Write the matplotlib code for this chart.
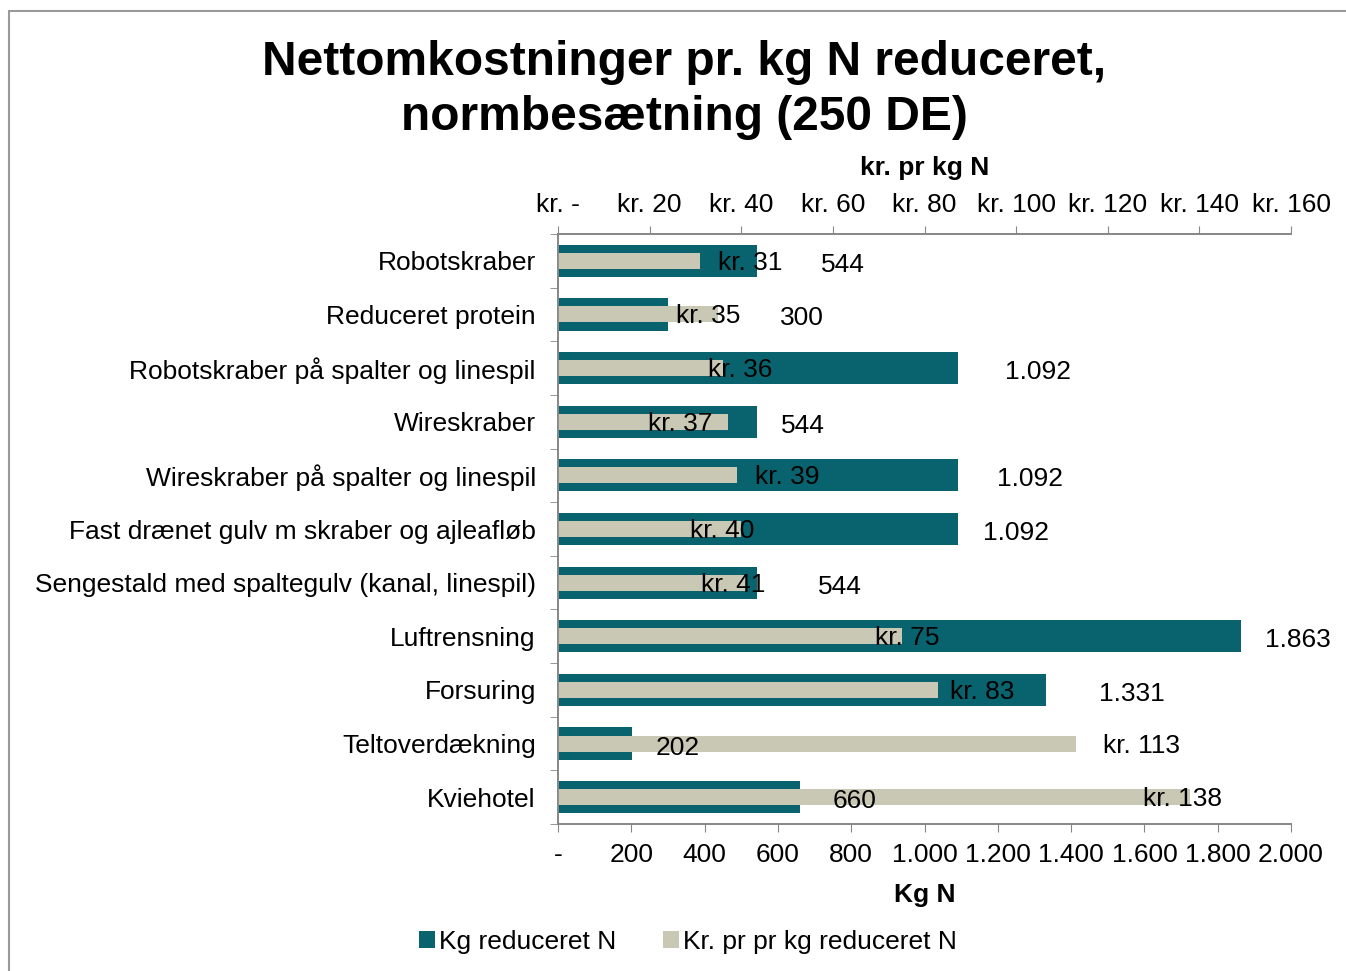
import matplotlib
matplotlib.use("Agg")
import matplotlib.pyplot as plt
from matplotlib.patches import Patch, Rectangle
from matplotlib.ticker import FixedLocator

plt.rcParams['font.family'] = ['Liberation Sans', 'DejaVu Sans']

categories = [
    "Robotskraber",
    "Reduceret protein",
    "Robotskraber på spalter og linespil",
    "Wireskraber",
    "Wireskraber på spalter og linespil",
    "Fast drænet gulv m skraber og ajleafløb",
    "Sengestald med spaltegulv (kanal, linespil)",
    "Luftrensning",
    "Forsuring",
    "Teltoverdækning",
    "Kviehotel",
]
kg_reduced = [544, 300, 1092, 544, 1092, 1092, 544, 1863, 1331, 202, 660]
kr_per_kg = [31, 35, 36, 37, 39, 40, 41, 75, 83, 113, 138]
kg_ticks = [0, 200, 400, 600, 800, 1000, 1200, 1400, 1600, 1800, 2000]
kr_ticks = [0, 20, 40, 60, 80, 100, 120, 140, 160]

# label placement offsets (pixels from bar end), as in the original
kg_label_dx = [86, 134, 80, 46, 72, 58, 83, 57, 86, 46, 55]
kr_label_dx = [50, -10, 17, -47, 51, -19, -13, 6, 44, 66, -8]

teal = "#08636E"
beige = "#C9C8B4"
axcol = "#868686"
fs = 19

def dk(v):
    return "-" if v == 0 else f"{v:,}".replace(",", ".")

fig = plt.figure(figsize=(13.46, 9.71), dpi=100)
W, H = 1346, 971
ax = fig.add_axes([558 / W, 1 - 824 / H, (1291 - 558) / W, (824 - 234) / H])
ax2 = ax.twiny()

y = list(range(len(categories)))
ax.barh(y, kg_reduced, height=0.6, color=teal, zorder=2)
ax2.barh(y, kr_per_kg, height=0.3, color=beige, zorder=2)

ax.set_xlim(0, 2000)
ax2.set_xlim(0, 160)
ax.set_ylim(len(categories) - 0.5, -0.5)

for a in (ax, ax2):
    a.patch.set_visible(False)
    for s in a.spines.values():
        s.set_color(axcol)
        s.set_linewidth(1.2)
    a.spines['right'].set_visible(False)

ax.set_xticks(kg_ticks)
ax.set_xticklabels([dk(v) for v in kg_ticks], fontsize=fs)
ax.tick_params(axis='x', direction='out', length=6, color=axcol, pad=7.5)
ax.set_xlabel("Kg N", fontsize=fs, fontweight='bold', labelpad=12)

ax2.set_xticks(kr_ticks)
ax2.set_xticklabels(["kr. " + dk(v) for v in kr_ticks], fontsize=fs)
ax2.tick_params(axis='x', direction='out', length=6, color=axcol, pad=6)
ax2.set_xlabel("kr. pr kg N", fontsize=fs, fontweight='bold', labelpad=13)

ax.set_yticks(y)
ax.set_yticklabels(categories, fontsize=fs)
ax.tick_params(axis='y', which='major', length=0, pad=16)
ax.yaxis.set_minor_locator(FixedLocator([i + 0.5 for i in range(-1, len(categories))]))
ax.tick_params(axis='y', which='minor', length=6, color=axcol, direction='out')

for i in y:
    ax2.annotate(dk(kg_reduced[i]), xy=(kg_reduced[i], i), xycoords=ax.transData,
                 xytext=(kg_label_dx[i], -4), textcoords='offset pixels',
                 ha='center', va='center', fontsize=fs, zorder=5)
    ax2.annotate("kr. " + dk(kr_per_kg[i]), xy=(kr_per_kg[i], i), xycoords=ax2.transData,
                 xytext=(kr_label_dx[i], -2), textcoords='offset pixels',
                 ha='center', va='center', fontsize=fs, zorder=5)

fig.text(684 / W, 1 - 90 / H, "Nettomkostninger pr. kg N reduceret,\nnormbesætning (250 DE)",
         ha='center', va='center', fontsize=34.5, fontweight='bold', linespacing=1.3)

handles = [Patch(facecolor=teal, edgecolor='none'), Patch(facecolor=beige, edgecolor='none')]
fig.legend(handles, ["Kg reduceret N", "Kr. pr pr kg reduceret N"], loc='center',
           bbox_to_anchor=(688 / W, 1 - 942 / H), ncol=2, frameon=False, fontsize=fs,
           handlelength=0.6, handleheight=0.6, handletextpad=0.15, columnspacing=1.8)

fig.patches.append(Rectangle((9 / W, -0.1), 1.2, 1.1 - 11 / H, transform=fig.transFigure,
                             fill=False, edgecolor="#999999", linewidth=1.5))

fig.savefig("out.png", dpi=100)
